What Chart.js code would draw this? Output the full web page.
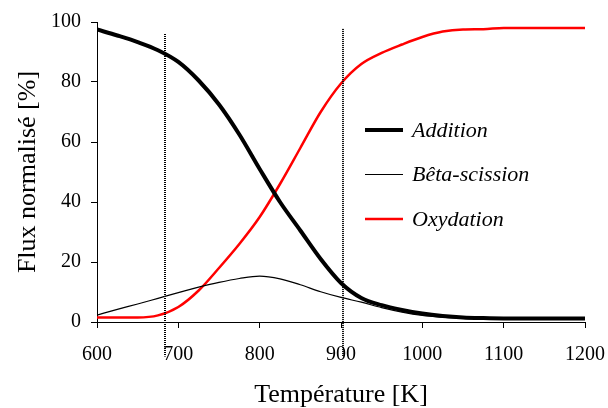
<!DOCTYPE html>
<html>
<head>
    <title>Flux normalisé</title>
    <script src="https://cdn.jsdelivr.net/npm/chart.js"></script>
    <style>
        body { margin: 0; background: #fff; }
        #wrap { width: 608px; height: 408px; }
    </style>
</head>
<body>
    <div id="wrap"><canvas id="fluxChart" width="608" height="408"></canvas></div>

    <script>
        // Températures (K)
        var temperatures = [600, 625, 650, 675, 700, 725, 750, 775, 800, 825, 850, 875, 900, 925, 950, 975, 1000, 1025, 1050, 1075, 1100, 1125, 1150, 1175, 1200];
        // Flux normalisés (%)
        var addition = [97.5, 95.5, 93.3, 90.6, 86.7, 80.5, 72.5, 62.5, 51, 40, 30.5, 21, 13, 8, 5.6, 4, 2.8, 2, 1.5, 1.3, 1.2, 1.2, 1.2, 1.2, 1.2];
        var betaScission = [2.3, 4.2, 6, 7.9, 9.8, 11.6, 13.2, 14.5, 15.3, 14.4, 12.4, 10.1, 8.2, 6.6, 4.8, 3.3, 2.2, 1.6, 1.2, 1.1, 1, 1, 1, 1, 1];
        var oxydation = [1.5, 1.5, 1.5, 2.2, 5, 10.5, 18, 26, 35, 46, 58, 70, 79.5, 86, 89.7, 92.5, 95, 96.8, 97.5, 97.6, 98, 98, 98, 98, 98];
        var xTicks = [600, 700, 800, 900, 1000, 1100, 1200];
        // Lignes verticales (K)
        var markers = [683, 902];

        function toPoints(values) {
            return temperatures.map(function(t, i) { return { x: t, y: values[i] }; });
        }

        var serif = "'Liberation Serif', 'Times New Roman', serif";

        // Lignes verticales pointillées
        var markerPlugin = {
            id: "markers",
            afterDatasetsDraw: function(chart) {
                var ctx = chart.ctx;
                var xs = chart.scales.x, ys = chart.scales.y;
                ctx.save();
                ctx.strokeStyle = "#000";
                ctx.lineWidth = 2;
                ctx.setLineDash([1, 1]);
                markers.forEach(function(m, i) {
                    var px = Math.round(xs.getPixelForValue(m));
                    ctx.beginPath();
                    ctx.moveTo(px, ys.getPixelForValue(i === 0 ? 96 : 97.7));
                    ctx.lineTo(px, ys.getPixelForValue(-11.5));
                    ctx.stroke();
                });
                ctx.restore();
            }
        };

        // Légende dessinée à la main
        var legendPlugin = {
            id: "customLegend",
            afterDraw: function(chart) {
                var ctx = chart.ctx;
                ctx.save();
                ctx.font = "italic 22px " + serif;
                ctx.textBaseline = "middle";
                chart.data.datasets.forEach(function(ds, i) {
                    var y = 130 + i * 44.5;
                    ctx.strokeStyle = ds.borderColor;
                    ctx.lineWidth = ds.borderWidth;
                    ctx.beginPath();
                    ctx.moveTo(365, y);
                    ctx.lineTo(403, y);
                    ctx.stroke();
                    ctx.fillStyle = "#000";
                    ctx.fillText(ds.label, 412, y + 1);
                });
                ctx.restore();
            }
        };

        var ctx = document.getElementById("fluxChart").getContext("2d");

        var chart = new Chart(ctx, {
            type: "line",
            data: {
                datasets: [{
                    label: "Addition",
                    data: toPoints(addition),
                    borderColor: "#000",
                    borderWidth: 4
                }, {
                    label: "Bêta-scission",
                    data: toPoints(betaScission),
                    borderColor: "#000",
                    borderWidth: 1.2
                }, {
                    label: "Oxydation",
                    data: toPoints(oxydation),
                    borderColor: "#ff0000",
                    borderWidth: 2.5
                }]
            },
            options: {
                responsive: false,
                animation: false,
                layout: { padding: { top: 21, right: 23, bottom: 0, left: 0 } },
                elements: {
                    point: { radius: 0 },
                    line: { cubicInterpolationMode: "monotone", fill: false }
                },
                plugins: {
                    legend: { display: false },
                    tooltip: { enabled: false }
                },
                scales: {
                    x: {
                        type: "linear",
                        min: 600,
                        max: 1200,
                        afterBuildTicks: function(axis) {
                            axis.ticks = xTicks.map(function(v) { return { value: v }; });
                        },
                        afterFit: function(axis) {
                            axis.paddingLeft = 0;
                            axis.paddingRight = 0;
                        },
                        grid: { drawOnChartArea: false, tickLength: 6, color: "#000" },
                        border: { color: "#000", width: 1 },
                        ticks: {
                            color: "#000",
                            padding: 15,
                            font: { family: serif, size: 20 },
                            callback: function(v) { return String(v); }
                        },
                        title: {
                            display: true,
                            text: "Température [K]",
                            color: "#000",
                            padding: { top: 0, bottom: 0 },
                            font: { family: serif, size: 26, lineHeight: 1 }
                        }
                    },
                    y: {
                        min: 0,
                        max: 100,
                        afterFit: function(axis) { axis.width = 97; },
                        grid: { drawOnChartArea: false, tickLength: 6, color: "#000" },
                        border: { color: "#000", width: 1 },
                        ticks: { stepSize: 20, color: "#000", padding: 10, font: { family: serif, size: 20 } },
                        title: {
                            display: true,
                            text: "Flux normalisé [%]",
                            color: "#000",
                            padding: { top: 15, bottom: 0 },
                            font: { family: serif, size: 26, lineHeight: 1 }
                        }
                    }
                }
            },
            plugins: [markerPlugin, legendPlugin]
        });
    </script>
</body>
</html>
